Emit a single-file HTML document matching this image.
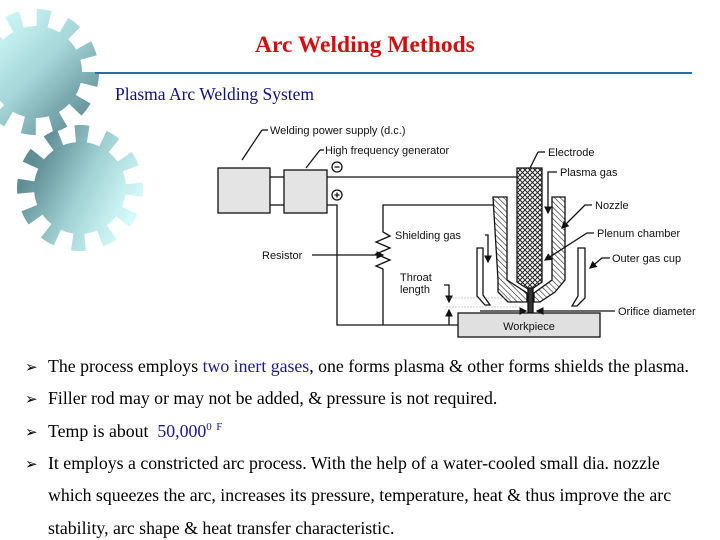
<!DOCTYPE html>
<html><head><meta charset="utf-8"><style>
body{margin:0;width:720px;height:540px;background:#fff;position:relative;overflow:hidden;font-family:"Liberation Serif",serif}
.t{position:absolute;white-space:nowrap}
.b{position:absolute;left:25px;font-size:17.8px;line-height:22px;color:#000;white-space:nowrap}
.b span.m{display:inline-block;width:23px;font-family:"DejaVu Sans",sans-serif;font-size:15px}
.blue{color:#1a1a8c}
.sp{font-size:11px;position:relative;top:-7px;line-height:0}
</style></head><body>
<svg width="720" height="540" style="position:absolute;left:0;top:0">
<defs>
<linearGradient id="g1" x1="0" y1="0" x2="1" y2="1"><stop offset="0" stop-color="#d0fafa"/><stop offset="0.5" stop-color="#a6d6d8"/><stop offset="1" stop-color="#5e8e94"/></linearGradient>
<linearGradient id="g2" x1="0" y1="0.3" x2="1" y2="0.8"><stop offset="0" stop-color="#5e8e94"/><stop offset="0.5" stop-color="#a0d0d2"/><stop offset="1" stop-color="#d4fafa"/></linearGradient>
<pattern id="hx" width="5" height="5" patternUnits="userSpaceOnUse"><rect width="5" height="5" fill="#fff"/><path d="M0 0L5 5M5 0L0 5" stroke="#222" stroke-width="1"/></pattern>
<pattern id="hl" width="4" height="4" patternUnits="userSpaceOnUse" patternTransform="rotate(-45)"><rect width="4" height="4" fill="#fff"/><path d="M0 0V4" stroke="#222" stroke-width="1.2"/></pattern>
<marker id="ar" markerWidth="6" markerHeight="6" refX="5" refY="3" orient="auto"><path d="M0 0L6 3L0 6z" fill="#111"/></marker>
</defs>
<g>
<circle cx="36" cy="72" r="50" fill="none" stroke="url(#g1)" stroke-width="26" stroke-dasharray="12 14.2"/>
<circle cx="36" cy="72" r="46" fill="url(#g1)"/>
</g>
<g>
<circle cx="80" cy="188" r="50" fill="none" stroke="url(#g2)" stroke-width="26" stroke-dasharray="12 14.2" stroke-dashoffset="5"/>
<circle cx="80" cy="188" r="46" fill="url(#g2)"/>
</g>
<line x1="95" y1="73" x2="692" y2="73" stroke="#2e6e9e" stroke-width="2"/>
<g stroke="#111" stroke-width="1.3" fill="none">
<rect x="218" y="168" width="52" height="45" fill="#e4e4e4"/>
<rect x="284" y="170" width="43" height="43" fill="#e4e4e4"/>
<line x1="270" y1="177" x2="284" y2="177"/><line x1="270" y1="205" x2="284" y2="205"/>
<circle cx="337" cy="167" r="5"/><circle cx="337" cy="195" r="5"/>
<path d="M334.5 167h5M334.5 195h5M337 192.5v5"/>
<line x1="327" y1="177" x2="517" y2="177"/>
<path d="M327 205H337V325H458"/>
<path d="M493 205H383V232l7 4-14 6 14 6-14 6 14 6-14 6 7 3V325"/>
<path d="M517 168H542V282L532 289H528L517 282Z" fill="url(#hx)"/>
<path d="M493 197H507V280L527 293V302H508L498 292V280Z" fill="url(#hl)"/>
<path d="M552 197H565V280L555 292L540 302H534V293L552 280Z" fill="url(#hl)"/>
<path d="M477 248H483V295L490 305H485L477 296Z"/>
<path d="M578 248H585V298L577 306H572L578 296Z"/>
<rect x="528" y="288" width="5" height="25" fill="#333"/>
<rect x="458" y="313" width="142" height="24" fill="#e0e0e0"/>
<line x1="312" y1="255" x2="383" y2="255" marker-end="url(#ar)"/>
<line x1="242" y1="160" x2="262" y2="130" /><line x1="262" y1="130" x2="268" y2="130"/>
<line x1="306" y1="168" x2="320" y2="150"/><line x1="320" y1="150" x2="324" y2="150"/>
<line x1="530" y1="168" x2="538" y2="152"/><line x1="538" y1="152" x2="545" y2="152"/>
<path d="M557 172H548V213" marker-end="url(#ar)"/>
<path d="M592 205H585L562 228" marker-end="url(#ar)"/>
<path d="M594 233H587L545 260" marker-end="url(#ar)"/>
<path d="M610 258H602L590 268" marker-end="url(#ar)"/>
<path d="M485 235H488V262" marker-end="url(#ar)"/>
<line x1="615" y1="311" x2="537" y2="311" marker-end="url(#ar)"/>
<line x1="480" y1="311" x2="526" y2="311" marker-end="url(#ar)"/>
<path d="M444 285H449V302" marker-end="url(#ar)"/>
<line x1="449" y1="325" x2="449" y2="310" marker-end="url(#ar)"/>
</g>
<g stroke="#999" stroke-width="0.6" stroke-dasharray="2 1"><line x1="446" y1="298" x2="520" y2="298"/><line x1="446" y1="307" x2="520" y2="307"/></g>
<g font-family="Liberation Sans, sans-serif" font-size="11" fill="#111">
<text x="270" y="134">Welding power supply (d.c.)</text>
<text x="325" y="154">High frequency generator</text>
<text x="548" y="156">Electrode</text>
<text x="560" y="176">Plasma gas</text>
<text x="595" y="209">Nozzle</text>
<text x="597" y="237">Plenum chamber</text>
<text x="612" y="262">Outer gas cup</text>
<text x="618" y="315">Orifice diameter</text>
<text x="395" y="239">Shielding gas</text>
<text x="262" y="259">Resistor</text>
<text x="400" y="281">Throat</text>
<text x="400" y="293">length</text>
<text x="529" y="330" text-anchor="middle">Workpiece</text>
</g>
</svg>
<div class="t" style="left:255px;top:32px;font-size:23.5px;font-weight:bold;color:#d01010">Arc Welding Methods</div>
<div class="t" style="left:115px;top:84px;font-size:17.5px;color:#101080">Plasma Arc Welding System</div>
<div class="b" style="top:355px"><span class="m">➢</span>The process employs <span class="blue">two inert gases</span>, one forms plasma &amp; other forms shields the plasma.</div>
<div class="b" style="top:387px"><span class="m">➢</span>Filler rod may or may not be added, &amp; pressure is not required.</div>
<div class="b" style="top:420px"><span class="m">➢</span>Temp is about &nbsp;<span class="blue">50,000<span class="sp">0</span> <span class="sp">F</span></span></div>
<div class="b" style="top:452px"><span class="m">➢</span>It employs a constricted arc process. With the help of a water-cooled small dia. nozzle</div>
<div class="b" style="top:484px;left:48px">which squeezes the arc, increases its pressure, temperature, heat &amp; thus improve the arc</div>
<div class="b" style="top:517px;left:48px">stability, arc shape &amp; heat transfer characteristic.</div>
</body></html>
